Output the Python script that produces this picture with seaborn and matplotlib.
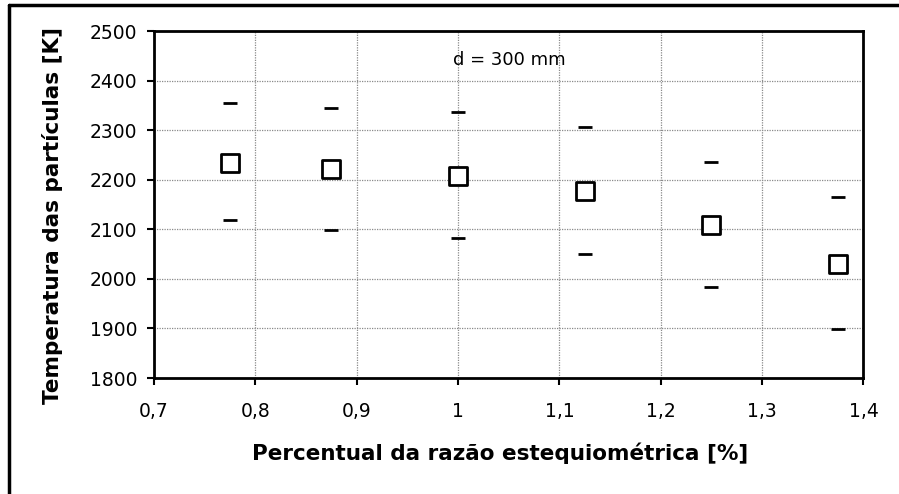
import matplotlib
matplotlib.use("Agg")
import matplotlib.pyplot as plt
import seaborn as sns
import pandas as pd
from matplotlib.lines import Line2D

# Stoichiometric ratio and particle temperatures
razao = [0.775, 0.875, 1.0, 1.125, 1.25, 1.375]
temp_media = [2234, 2221, 2208, 2177, 2109, 2029]
temp_max = [2354, 2345, 2337, 2307, 2236, 2166]
temp_min = [2119, 2099, 2082, 2050, 1984, 1898]

x_ticks = [0.7, 0.8, 0.9, 1.0, 1.1, 1.2, 1.3, 1.4]
x_tick_labels = ["0,7", "0,8", "0,9", "1", "1,1", "1,2", "1,3", "1,4"]
y_ticks = [1800, 1900, 2000, 2100, 2200, 2300, 2400, 2500]

df = pd.DataFrame({"razao": razao, "media": temp_media,
                   "max": temp_max, "min": temp_min})

sns.set_theme(style="white")
plt.rcParams["font.family"] = ["DejaVu Sans"]
plt.rcParams["text.color"] = "black"

fig = plt.figure(figsize=(8.99, 4.94), dpi=100)
ax = fig.add_axes([0.1713, 0.2348, 0.7892, 0.7024])

sns.scatterplot(data=df, x="razao", y="media", ax=ax, marker="s", s=150,
                facecolor="white", edgecolor="black", linewidth=2, zorder=4)
sns.scatterplot(data=df, x="razao", y="max", ax=ax, marker="_", s=110,
                color="black", linewidth=2, zorder=4)
sns.scatterplot(data=df, x="razao", y="min", ax=ax, marker="_", s=110,
                color="black", linewidth=2, zorder=4)

ax.set_xlim(0.7, 1.4)
ax.set_ylim(1800, 2500)
ax.set_xticks(x_ticks)
ax.set_xticklabels(x_tick_labels)
ax.set_yticks(y_ticks)
ax.tick_params(axis="both", labelsize=13.5, colors="black", length=5,
               width=1.5, direction="out", bottom=True, left=True)
ax.tick_params(axis="x", pad=12)
ax.tick_params(axis="y", pad=7)
ax.grid(True, color="#8a8a8a", linestyle=(0, (1, 1)), linewidth=0.9)
for s in ax.spines.values():
    s.set_color("black")
    s.set_linewidth(2)

ax.set_xlabel("Percentual da razão estequiométrica [%]", fontsize=15.5,
              fontweight="bold", color="black")
ax.set_ylabel("Temperatura das partículas [K]", fontsize=15.5,
              fontweight="bold", color="black")
ax.xaxis.set_label_coords(0.4877, -0.187)
ax.yaxis.set_label_coords(-0.128, 0.467)
ax.text(0.995, 2441, "d = 300 mm", fontsize=13, ha="left", va="center",
        color="black")

# outer frame of the figure
fig.add_artist(Line2D([9 / 899, 9 / 899], [0, 1 - 5 / 494],
                      transform=fig.transFigure, color="black", linewidth=2.5))
fig.add_artist(Line2D([9 / 899, 1], [1 - 5 / 494, 1 - 5 / 494],
                      transform=fig.transFigure, color="black", linewidth=2.5))

fig.savefig("out.png", dpi=100)
